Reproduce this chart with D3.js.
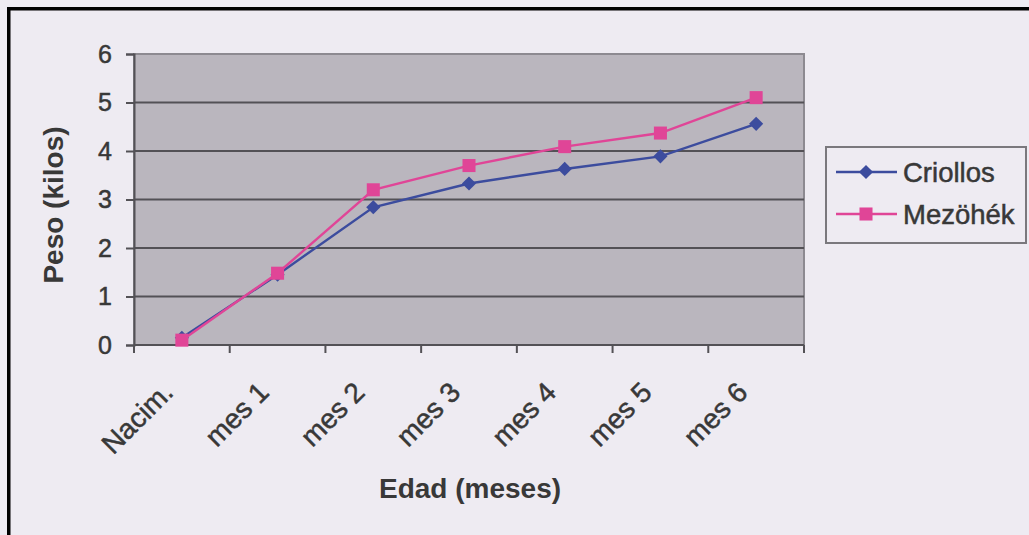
<!DOCTYPE html>
<html>
<head>
<meta charset="utf-8">
<script src="https://cdn.jsdelivr.net/npm/d3@7"></script>
<style>
  html, body { margin: 0; padding: 0; background: #eeebf2; }
  svg { display: block; }
  text { font-family: Arial, "Liberation Sans", sans-serif; fill: #383838; }
</style>
</head>
<body>
<svg id="chart" width="1029" height="535"></svg>
<script>
// Age categories (x axis)
const categories = ["Nacim.", "mes 1", "mes 2", "mes 3", "mes 4", "mes 5", "mes 6"];
// Weight in kilos per breed
const criollos = [0.15, 1.45, 2.84, 3.33, 3.63, 3.89, 4.56];
const mezohek  = [0.10, 1.48, 3.20, 3.70, 4.09, 4.37, 5.10];
const seriesNames = ["Criollos", "Mezöhék"];
const yTicks = [0, 1, 2, 3, 4, 5, 6];

const W = 1029, H = 535;
const plot = { left: 134, right: 804, top: 54, bottom: 345 };

const svg = d3.select("#chart");

// page background and the black frame on the top and left edges
svg.append("rect").attr("width", W).attr("height", H).attr("fill", "#eeebf2");
svg.append("rect").attr("x", 7).attr("y", 7).attr("width", W - 7).attr("height", 3.5).attr("fill", "#000");
svg.append("rect").attr("x", 7).attr("y", 7).attr("width", 3.5).attr("height", H - 7).attr("fill", "#000");

const x = d3.scaleBand().domain(categories).range([plot.left, plot.right]);
const y = d3.scaleLinear().domain([0, 6]).range([plot.bottom, plot.top]);
const cx = c => x(c) + x.bandwidth() / 2;

// plot area
svg.append("rect")
  .attr("x", plot.left).attr("y", plot.top)
  .attr("width", plot.right - plot.left).attr("height", plot.bottom - plot.top)
  .attr("fill", "#bab6be")
  .attr("stroke", "#8d8a91").attr("stroke-width", 2);

// horizontal gridlines
svg.append("g").selectAll("line")
  .data(yTicks.filter(d => d > 0 && d < 6))
  .join("line")
  .attr("x1", plot.left).attr("x2", plot.right)
  .attr("y1", d => y(d)).attr("y2", d => y(d))
  .attr("stroke", "#535156").attr("stroke-width", 2);

// y axis
const yAxis = svg.append("g")
  .attr("transform", `translate(${plot.left},0)`)
  .call(d3.axisLeft(y).tickValues(yTicks).tickSize(8).tickPadding(14).tickFormat(d3.format("d")));
yAxis.select(".domain").attr("stroke", "#535156").attr("stroke-width", 2);
yAxis.selectAll(".tick line").attr("stroke", "#535156").attr("stroke-width", 2);
yAxis.selectAll(".tick text")
  .attr("font-size", 25).attr("fill", "#383838")
  .attr("stroke", "#383838").attr("stroke-width", 0.5)
  .attr("font-family", "Arial, 'Liberation Sans', sans-serif");

// x axis: ticks at category boundaries
const xAxisG = svg.append("g");
xAxisG.append("line")
  .attr("x1", plot.left).attr("x2", plot.right)
  .attr("y1", plot.bottom).attr("y2", plot.bottom)
  .attr("stroke", "#535156").attr("stroke-width", 2);
const bounds = categories.map(c => x(c)).concat([x(categories[categories.length - 1]) + x.bandwidth()]);
xAxisG.selectAll("line.tk").data(bounds).join("line").attr("class", "tk")
  .attr("x1", d => d).attr("x2", d => d)
  .attr("y1", plot.bottom).attr("y2", plot.bottom + 8)
  .attr("stroke", "#535156").attr("stroke-width", 2);

// rotated category labels
xAxisG.selectAll("text").data(categories).join("text")
  .attr("transform", d => `translate(${cx(d) - 7},${plot.bottom + 49}) rotate(-45)`)
  .attr("text-anchor", "end")
  .attr("font-size", 28)
  .attr("stroke", "#383838").attr("stroke-width", 0.5)
  .text(d => d);

// axis titles
svg.append("text")
  .attr("x", 470).attr("y", 498)
  .attr("text-anchor", "middle")
  .attr("font-size", 28).attr("font-weight", "bold")
  .text("Edad (meses)");
svg.append("text")
  .attr("transform", `translate(63,205) rotate(-90)`)
  .attr("text-anchor", "middle")
  .attr("font-size", 28).attr("font-weight", "bold")
  .text("Peso (kilos)");

const series = [
  { name: seriesNames[0], values: criollos, color: "#3c4c9e", shape: d3.symbolSquare, rot: 45, size: 100 },
  { name: seriesNames[1], values: mezohek,  color: "#e04597", shape: d3.symbolSquare, rot: 0,  size: 170 }
];

const line = d3.line()
  .x((d, i) => cx(categories[i]))
  .y(d => y(d));

series.forEach(s => {
  svg.append("path")
    .datum(s.values)
    .attr("d", line)
    .attr("fill", "none")
    .attr("stroke", s.color)
    .attr("stroke-width", 2.4);
  svg.append("g").selectAll("path")
    .data(s.values)
    .join("path")
    .attr("transform", (d, i) => `translate(${cx(categories[i])},${y(d)}) rotate(${s.rot})`)
    .attr("d", d3.symbol().type(s.shape).size(s.size))
    .attr("fill", s.color);
});

// legend
const lg = svg.append("g");
lg.append("rect")
  .attr("x", 826).attr("y", 147).attr("width", 200).attr("height", 96)
  .attr("fill", "#eeebf2").attr("stroke", "#7a787d").attr("stroke-width", 2);
series.forEach((s, i) => {
  const ly = 172 + i * 42;
  lg.append("line")
    .attr("x1", 836).attr("x2", 897).attr("y1", ly).attr("y2", ly)
    .attr("stroke", s.color).attr("stroke-width", 2.4);
  lg.append("path")
    .attr("transform", `translate(866,${ly}) rotate(${s.rot})`)
    .attr("d", d3.symbol().type(s.shape).size(s.size))
    .attr("fill", s.color);
  lg.append("text")
    .attr("x", 903).attr("y", ly).attr("dy", "0.36em")
    .attr("font-size", 27.5)
    .attr("stroke", "#383838").attr("stroke-width", 0.5)
    .text(s.name);
});
</script>
</body>
</html>
